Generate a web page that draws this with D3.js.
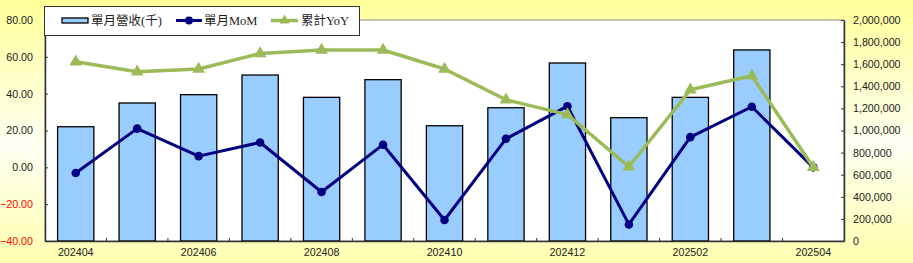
<!DOCTYPE html>
<html><head><meta charset="utf-8">
<script src="https://cdn.jsdelivr.net/npm/d3@7/dist/d3.min.js"></script>
<style>html,body{margin:0;padding:0;overflow:hidden;background:#fff}</style>
</head><body><svg id="c" width="913" height="263"></svg>
<script>
const categories = ["202404","202405","202406","202407","202408","202409","202410","202411","202412","202501","202502","202503","202504"];
const revenue = [1034000,1249000,1324000,1502000,1300000,1460000,1043000,1206000,1611000,1116000,1300000,1729000,null];
const mom = [-3.1,21.0,6.1,13.5,-13.4,12.3,-28.6,15.5,33.2,-31.0,16.4,32.9,0.0];
const yoy = [57.3,51.9,53.4,61.8,63.7,63.7,53.4,36.7,28.6,0.3,42.1,49.7,0.0];
const leftTicks = [-40,-20,0,20,40,60,80];
const rightTicks = [0,200000,400000,600000,800000,1000000,1200000,1400000,1600000,1800000,2000000];
const xLabels = ["202404","202406","202408","202410","202412","202502","202504"];
const seriesNames = ["單月營收(千)","單月MoM","累計YoY"];

const W=913,H=263, L=45, R=844, T=20, B=241;
const svg=d3.select("#c");
const defs=svg.append("defs");
const g=defs.append("linearGradient").attr("id","bg").attr("x1",0).attr("y1",0).attr("x2",0).attr("y2",1);
g.append("stop").attr("offset","0%").attr("stop-color","#FFFF99");
g.append("stop").attr("offset","55%").attr("stop-color","#FFFFF2");
g.append("stop").attr("offset","100%").attr("stop-color","#FFFFB0");
svg.append("rect").attr("width",W).attr("height",H).attr("fill","url(#bg)");
svg.append("rect").attr("x",L).attr("y",T).attr("width",R-L).attr("height",B-T).attr("fill","#fff").attr("stroke","#888").attr("stroke-width",1);

const x=d3.scaleBand().domain(categories).range([L,R]).paddingInner(0.41).paddingOuter(0.205);
const yL=d3.scaleLinear().domain([-40,80]).range([B,T]);
const yR=d3.scaleLinear().domain([0,2000000]).range([B,T]);
const cx=c=>x(c)+x.bandwidth()/2;

// bars
svg.append("g").selectAll("rect").data(categories.map((c,i)=>({c,v:revenue[i]})).filter(d=>d.v!=null))
 .join("rect").attr("x",d=>x(d.c)).attr("width",x.bandwidth())
 .attr("y",d=>yR(d.v)).attr("height",d=>B-yR(d.v))
 .attr("fill","#99CCFF").attr("stroke","#000").attr("stroke-width",1.3);

// axes
const tickFont="'Liberation Sans', Arial, sans-serif";
const axL=svg.append("g").attr("transform",`translate(${L},0)`).call(d3.axisLeft(yL).tickValues(leftTicks).tickFormat(d3.format(".2f")).tickSizeInner(-3).tickSizeOuter(0).tickPadding(12));
axL.select(".domain").attr("stroke","#333").attr("stroke-width",1.5);
axL.selectAll(".tick line").attr("stroke","#333");
axL.selectAll("text").attr("font-family",tickFont).attr("font-size","10.7px").attr("fill",d=>d<0?"#FF0000":"#222");

const axR=svg.append("g").attr("transform",`translate(${R},0)`).call(d3.axisRight(yR).tickValues(rightTicks).tickFormat(d3.format(",")).tickSizeInner(-3).tickSizeOuter(0).tickPadding(9));
axR.select(".domain").attr("stroke","#333").attr("stroke-width",1.5);
axR.selectAll(".tick line").attr("stroke","#333");
axR.selectAll("text").attr("font-family",tickFont).attr("font-size","10.7px").attr("fill","#222");

const axB=svg.append("g").attr("transform",`translate(0,${B})`).call(d3.axisBottom(x).tickValues(xLabels).tickSize(0).tickPadding(7));
axB.select(".domain").attr("stroke","#333").attr("stroke-width",1.5);
axB.selectAll("text").attr("font-family",tickFont).attr("font-size","10.7px").attr("fill","#222");
// boundary ticks
const bounds=categories.slice(1).map(c=>x(c)-x.step()*x.paddingInner()/2);
svg.append("g").selectAll("line").data(bounds).join("line")
 .attr("x1",d=>d).attr("x2",d=>d).attr("y1",B).attr("y2",B-3).attr("stroke","#333");

// MoM line
const lineL=d3.line().x((d,i)=>cx(categories[i])).y(d=>yL(d));
svg.append("path").datum(mom).attr("d",lineL).attr("fill","none").attr("stroke","#000080").attr("stroke-width",3).attr("stroke-linejoin","round");
svg.append("g").selectAll("circle").data(mom).join("circle").attr("cx",(d,i)=>cx(categories[i])).attr("cy",d=>yL(d)).attr("r",4.3).attr("fill","#000080");

// YoY line
svg.append("path").datum(yoy).attr("d",lineL).attr("fill","none").attr("stroke","#9BBB59").attr("stroke-width",3.5).attr("stroke-linejoin","round");
const tri=d3.symbol().type(d3.symbolTriangle).size(70);
svg.append("g").selectAll("path").data(yoy).join("path").attr("d",tri)
 .attr("transform",(d,i)=>`translate(${cx(categories[i])},${yL(d)})`).attr("fill","#9BBB59");

// legend
const lg=svg.append("g");
lg.append("rect").attr("x",44.5).attr("y",6.5).attr("width",315).attr("height",29).attr("fill","#fff").attr("stroke","#333").attr("stroke-width",1);
const ly=20.5;
lg.append("rect").attr("x",62).attr("y",ly-2.5).attr("width",26).attr("height",5).attr("fill","#99CCFF").attr("stroke","#000").attr("stroke-width",1.3);
lg.append("line").attr("x1",176).attr("x2",202).attr("y1",ly).attr("y2",ly).attr("stroke","#000080").attr("stroke-width",3);
lg.append("circle").attr("cx",189).attr("cy",ly).attr("r",4).attr("fill","#000080");
lg.append("line").attr("x1",271).attr("x2",298).attr("y1",ly).attr("y2",ly).attr("stroke","#9BBB59").attr("stroke-width",3.5);
lg.append("path").attr("d",d3.symbol().type(d3.symbolTriangle).size(45)).attr("transform",`translate(284.5,${ly})`).attr("fill","#9BBB59");
const legFont="'Liberation Serif','Noto Sans CJK TC',serif";
[[91,seriesNames[0]],[204,seriesNames[1]],[301,seriesNames[2]]].forEach(([lx,t])=>{
 lg.append("text").attr("x",lx).attr("y",ly).attr("dy","0.36em").attr("font-family",legFont).attr("font-size","12.5px").attr("fill","#222").text(t);
});
</script></body></html>
